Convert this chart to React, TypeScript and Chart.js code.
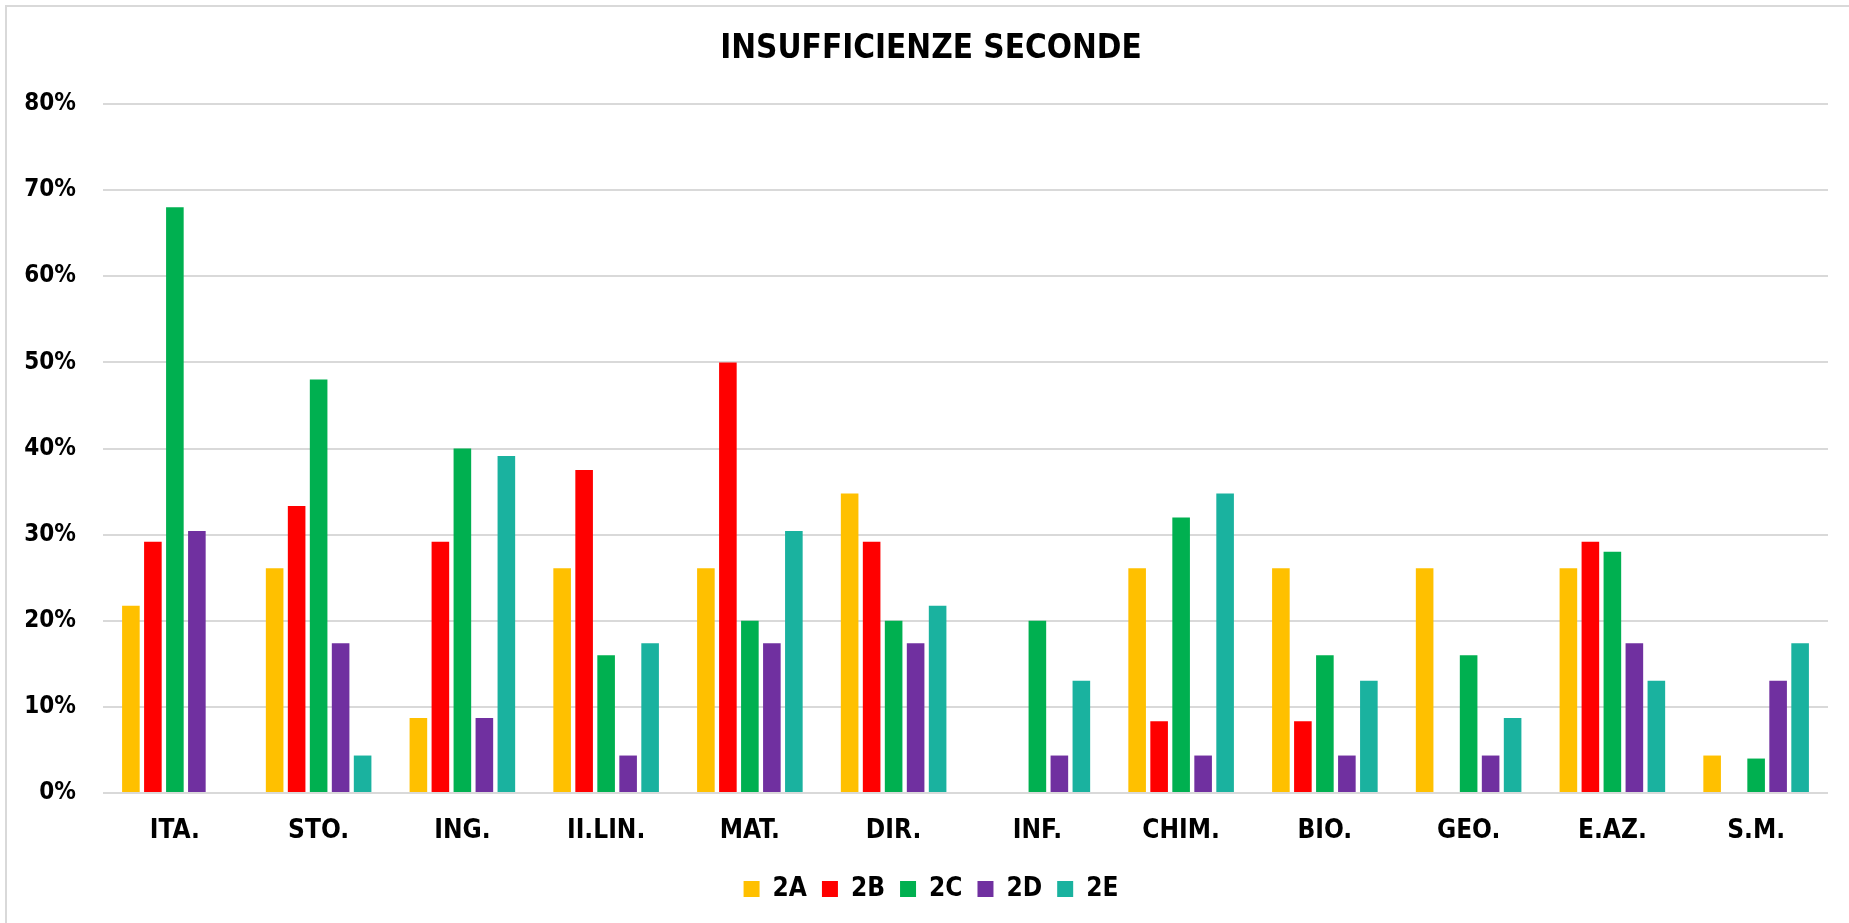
import React, { useEffect, useRef } from "react";
import { Chart, registerables } from "chart.js";

Chart.register(...registerables);

const categories = ["ITA.", "STO.", "ING.", "II.LIN.", "MAT.", "DIR.", "INF.", "CHIM.", "BIO.", "GEO.", "E.AZ.", "S.M."];
const seriesNames = ["2A", "2B", "2C", "2D", "2E"];
const values2A = [21.74, 26.09, 8.7, 26.09, 26.09, 34.78, 0, 26.09, 26.09, 26.09, 26.09, 4.35];
const values2B = [29.17, 33.33, 29.17, 37.5, 50, 29.17, 0, 8.33, 8.33, 0, 29.17, 0];
const values2C = [68, 48, 40, 16, 20, 20, 20, 32, 16, 16, 28, 4];
const values2D = [30.43, 17.39, 8.7, 4.35, 17.39, 17.39, 4.35, 4.35, 4.35, 4.35, 17.39, 13.04];
const values2E = [0, 4.35, 39.13, 17.39, 30.43, 21.74, 13.04, 34.78, 13.04, 8.7, 13.04, 17.39];
const seriesColors = ["#FFC000", "#FF0000", "#00B050", "#7030A0", "#1AB29F"];
const titleText = "INSUFFICIENZE SECONDE";
const yMin = 0;
const yMax = 80;
const yStep = 10;

const FONT = "'DejaVu Sans Condensed', 'DejaVu Sans', sans-serif";
const CANVAS_W = 1862;
const CANVAS_H = 923;

export default function App() {
  const canvasRef = useRef<HTMLCanvasElement | null>(null);

  useEffect(() => {
    if (!canvasRef.current) return;
    const allValues = [values2A, values2B, values2C, values2D, values2E];
    const chart = new Chart(canvasRef.current, {
      type: "bar",
      data: {
        labels: categories,
        datasets: seriesNames.map((name, i) => ({
          label: name,
          data: allValues[i],
          backgroundColor: seriesColors[i],
          borderWidth: 0,
          categoryPercentage: 0.765,
          barPercentage: 0.8,
          yAxisID: "y",
        })),
      },
      options: {
        responsive: false,
        devicePixelRatio: 1,
        animation: false,
        layout: { padding: { left: 0, right: 0, top: 0, bottom: 11 } },
        plugins: {
          title: {
            display: true,
            text: titleText,
            color: "#000",
            font: { family: FONT, size: 33, weight: "bold" },
            padding: { top: 30, bottom: 34.4 },
          },
          legend: {
            position: "bottom",
            labels: {
              color: "#000",
              font: { family: FONT, size: 26, weight: "bold" },
              boxWidth: 16,
              boxHeight: 16,
              padding: 15,
            },
          },
          tooltip: { enabled: false },
        },
        scales: {
          x: {
            grid: { display: false, drawTicks: false },
            border: { display: false },
            ticks: {
              color: "#000",
              font: { family: FONT, size: 26, weight: "bold" },
              padding: 23,
              maxRotation: 0,
            },
            afterFit: (scale: any) => {
              scale.height = 68;
            },
          },
          y: {
            min: yMin,
            max: yMax,
            grid: { color: "#D9D9D9", lineWidth: 2, drawTicks: false },
            border: { display: false },
            ticks: {
              stepSize: yStep,
              color: "#000",
              font: { family: FONT, size: 24, weight: "bold" },
              padding: 27,
              callback: (v: any) => v + "%",
            },
            afterFit: (scale: any) => {
              scale.width = 103;
            },
          },
          ySpacer: {
            position: "right",
            display: true,
            grid: { display: false, drawTicks: false },
            border: { display: false },
            ticks: { display: false },
            afterFit: (scale: any) => {
              scale.width = 34;
            },
          },
        },
      },
    });
    return () => chart.destroy();
  }, []);

  return (
    <div style={{ position: "absolute", left: 0, top: 0, width: 1849, height: 923, overflow: "hidden", background: "#fff" }}>
      <div style={{ position: "absolute", left: 5, top: 5, width: 1900, height: 1000, border: "2px solid #D9D9D9" }} />
      <canvas ref={canvasRef} width={CANVAS_W} height={CANVAS_H} style={{ position: "absolute", left: 0, top: 0, width: CANVAS_W, height: CANVAS_H }} />
    </div>
  );
}
